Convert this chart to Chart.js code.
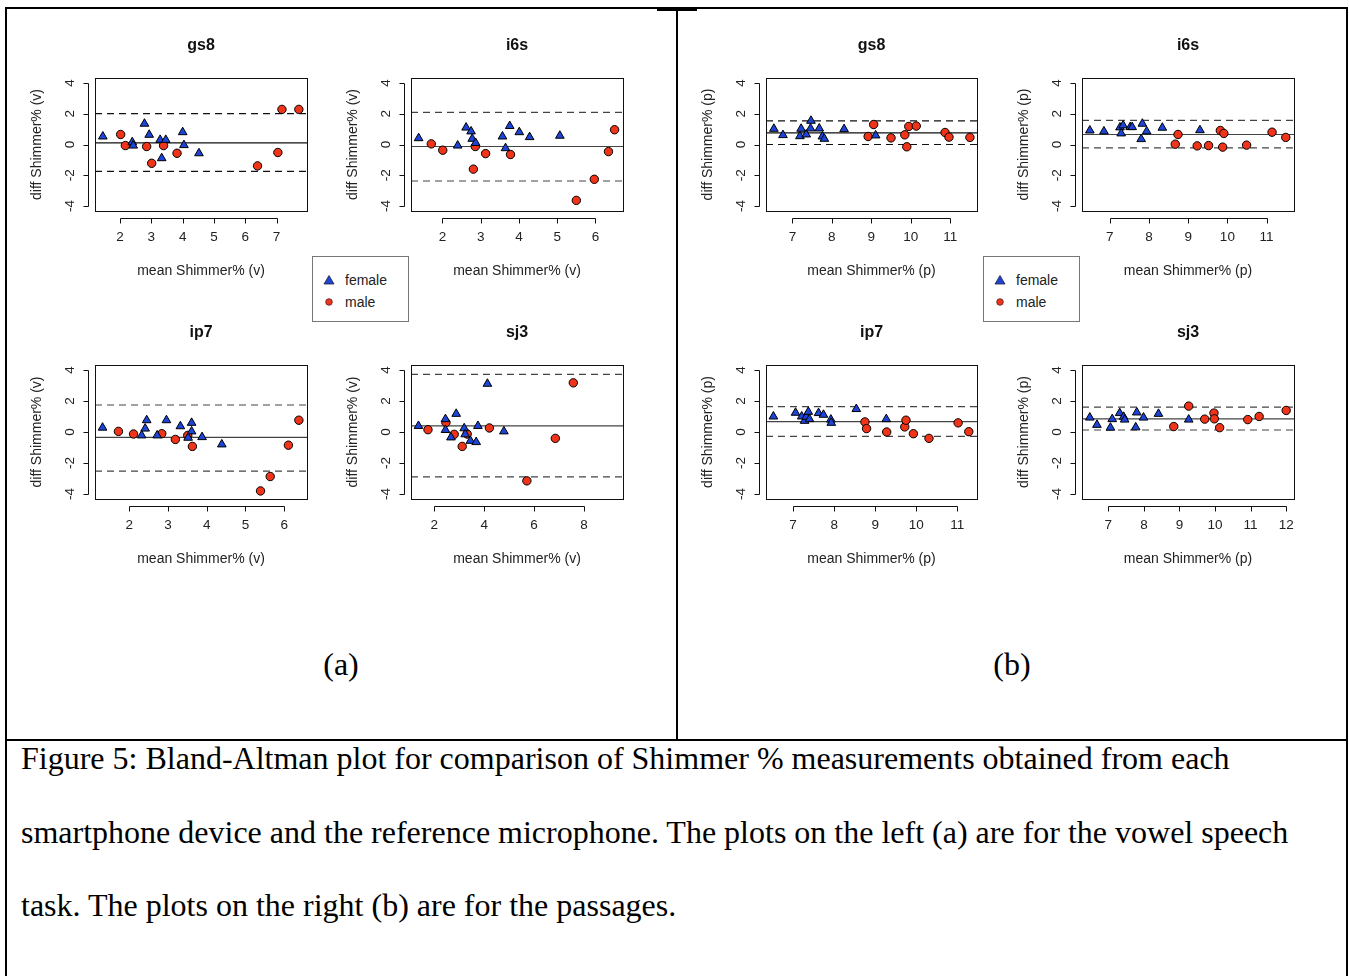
<!DOCTYPE html>
<html>
<head>
<meta charset="utf-8">
<script src="https://cdn.jsdelivr.net/npm/chart.js@4.4.1/dist/chart.umd.min.js"></script>
<style>
body { margin:0; background:#fff; width:1349px; height:976px; position:relative; overflow:hidden; }
.rule { position:absolute; background:#000; }
.plot { position:absolute; }
.legend { position:absolute; left:0; top:0; width:95px; height:64px; border:1px solid #777; background:#fff;
  font:14px "Liberation Sans", Arial, sans-serif; color:#222; }
.legend span { position:absolute; left:32px; line-height:16px; }
.legend svg { position:absolute; left:10px; }
.serif { position:absolute; font-family:"Liberation Serif", "Times New Roman", serif; font-size:32px; color:#000; white-space:nowrap; }
</style>
</head>
<body>

<div class="rule" style="left:6px; top:7px; width:1341px; height:2px;"></div>
<div class="rule" style="left:657px; top:8px; width:40px; height:3px;"></div>
<div class="rule" style="left:676px; top:9px; width:2px; height:731px;"></div>
<div class="rule" style="left:5px; top:7px; width:2px; height:969px;"></div>
<div class="rule" style="left:1346px; top:7px; width:2px; height:969px;"></div>
<div class="rule" style="left:5px; top:739px; width:1343px; height:2px;"></div>

<div class="serif" style="left:291px; top:646px; width:100px; text-align:center;">(a)</div>
<div class="serif" style="left:962px; top:646px; width:100px; text-align:center;">(b)</div>

<div class="serif" style="left:21px; top:722px; line-height:73.5px;">
Figure 5: Bland-Altman plot for comparison of Shimmer % measurements obtained from each<br>
smartphone device and the reference microphone. The plots on the left (a) are for the vowel speech<br>
task. The plots on the right (b) are for the passages.
</div>

<script>
// devices, one plot each, in reading order
const devices = ['gs8', 'i6s', 'ip7', 'sj3'];

// (a) vowel task: [mean, diff] pairs
const aGs8Female = [[1.45,0.52],[2.39,0.15],[2.42,-0.07],[2.78,1.35],[2.93,0.63],[3.28,0.3],[3.46,0.3],[3.33,-0.89],[4.0,0.8],[4.04,-0.04],[4.52,-0.57]];
const aGs8Male = [[2.02,0.65],[2.17,-0.07],[2.85,-0.13],[3.01,-1.22],[3.39,-0.07],[3.82,-0.57],[6.39,-1.39],[7.04,-0.52],[7.17,2.28],[7.71,2.28]];
const aI6sFemale = [[1.38,0.41],[2.40,-0.07],[2.62,1.1],[2.75,0.85],[2.78,0.37],[2.87,0.1],[3.57,0.52],[3.65,-0.24],[3.76,1.2],[4.01,0.8],[4.28,0.48],[5.07,0.57]];
const aI6sMale = [[1.71,0.04],[2.01,-0.37],[2.86,-0.13],[2.81,-1.6],[3.13,-0.59],[3.78,-0.65],[5.50,-3.63],[5.97,-2.26],[6.34,-0.46],[6.50,0.96]];
const aIp7Female = [[1.31,0.28],[2.32,-0.22],[2.41,0.22],[2.45,0.76],[2.72,-0.22],[2.96,0.76],[3.32,0.37],[3.52,-0.37],[3.61,0.59],[3.61,0.04],[3.88,-0.33],[4.39,-0.8]];
const aIp7Male = [[1.72,0.04],[2.11,-0.13],[2.84,-0.11],[3.19,-0.48],[3.51,-0.22],[3.63,-0.93],[5.39,-3.8],[5.64,-2.87],[6.11,-0.85],[6.38,0.76]];
const aSj3Female = [[1.37,0.39],[2.45,0.83],[2.45,0.13],[2.67,-0.35],[2.88,1.17],[3.2,0.24],[3.24,-0.15],[3.45,-0.57],[3.68,-0.65],[3.75,0.39],[4.13,3.11],[4.79,0.04]];
const aSj3Male = [[1.75,0.15],[2.47,0.61],[2.80,-0.15],[3.12,-0.93],[3.32,-0.13],[4.21,0.26],[5.71,-3.15],[6.85,-0.41],[7.57,3.17]];

// (b) passages
const bGs8Female = [[6.53,1.02],[6.76,0.61],[7.22,1.02],[7.19,0.54],[7.35,0.65],[7.47,1.54],[7.46,1.04],[7.68,1.04],[7.76,0.52],[7.81,0.37],[8.31,1.0],[9.11,0.59]];
const bGs8Male = [[8.92,0.52],[9.06,1.3],[9.5,0.43],[9.85,0.63],[9.9,-0.15],[9.95,1.17],[10.14,1.2],[10.87,0.78],[10.97,0.48],[11.5,0.46]];
const bI6sFemale = [[6.49,0.91],[6.85,0.85],[7.26,1.11],[7.29,0.72],[7.34,1.24],[7.52,1.13],[7.57,1.13],[7.8,0.35],[7.83,1.35],[7.94,0.85],[8.34,1.09],[9.3,0.93]];
const bI6sMale = [[8.67,0.02],[8.74,0.65],[9.23,-0.09],[9.52,-0.07],[9.82,0.91],[9.91,0.72],[9.88,-0.17],[10.49,-0.04],[11.14,0.8],[11.49,0.46]];
const bIp7Female = [[6.52,1.0],[7.06,1.24],[7.21,1.0],[7.28,0.72],[7.32,0.98],[7.37,1.3],[7.40,0.83],[7.62,1.22],[7.74,1.11],[7.92,0.8],[7.93,0.59],[8.54,1.48],[9.27,0.83]];
const bIp7Male = [[8.75,0.65],[8.79,0.22],[9.28,0.0],[9.72,0.33],[9.75,0.76],[9.93,-0.11],[10.31,-0.41],[11.02,0.59],[11.28,0.02]];
const bSj3Female = [[6.48,0.93],[6.68,0.46],[7.06,0.28],[7.11,0.83],[7.32,1.22],[7.43,0.98],[7.46,0.8],[7.77,0.3],[7.80,1.26],[7.99,0.93],[8.41,1.17],[9.26,0.8]];
const bSj3Male = [[8.84,0.35],[9.26,1.67],[9.71,0.83],[9.97,1.22],[9.98,0.85],[10.13,0.28],[10.92,0.8],[11.24,1.0],[12.0,1.39]];

// bias and limits of agreement, per device
const vowelMean = [0.11, -0.13, -0.35, 0.39];
const vowelUpper = [2.0, 2.09, 1.74, 3.72];
const vowelLower = [-1.74, -2.37, -2.52, -2.89];
const passageMean = [0.76, 0.65, 0.67, 0.85];
const passageUpper = [1.54, 1.57, 1.63, 1.61];
const passageLower = [0.0, -0.22, -0.28, 0.13];

// axes
const vowelXRange = [[1.2, 7.97], [1.18, 6.72], [1.115, 6.59], [1.07, 9.56]];
const passageXRange = [[6.33, 11.68], [6.29, 11.70], [6.34, 11.48], [6.26, 12.22]];
const vowelXTicks = [[2,3,4,5,6,7], [2,3,4,5,6], [2,3,4,5,6], [2,4,6,8]];
const passageXTicks = [[7,8,9,10,11], [7,8,9,10,11], [7,8,9,10,11], [7,8,9,10,11,12]];
const yTicks = [-4, -2, 0, 2, 4];
const yRange = [-4.32, 4.32];

const SANS = '"Liberation Sans", Arial, Helvetica, sans-serif';
const BLUE = '#1d44d8';
const RED = '#f0341a';

// plot boxes on the page
const colEdges = [[95, 307], [411, 623], [766, 977], [1082, 1294]];
const rowEdges = [[77.5, 210.5], [364.5, 498.5]];
const W_Y = 75, H_X = 72, PAD_TOP = 50, PAD_RIGHT = 20;

// R style: framed plot, axes pulled away from the frame
const rAxes = {
  id: 'rAxes',
  afterDatasetsDraw(chart) {
    const {ctx, chartArea: a, scales: {x, y}} = chart;
    const px = v => Math.round(v) + 0.5;
    ctx.save();
    ctx.strokeStyle = '#111';
    ctx.lineWidth = 1;
    ctx.strokeRect(px(a.left), px(a.top), Math.round(a.right) - Math.round(a.left), Math.round(a.bottom) - Math.round(a.top));
    ctx.beginPath();
    const ax = px(a.left - 7);
    const yp = y.ticks.map(t => px(y.getPixelForValue(t.value)));
    ctx.moveTo(ax, yp[0]); ctx.lineTo(ax, yp[yp.length - 1]);
    yp.forEach(p => { ctx.moveTo(ax, p); ctx.lineTo(ax - 5, p); });
    const ay = px(a.bottom + 7);
    const xp = x.ticks.map(t => px(x.getPixelForValue(t.value)));
    ctx.moveTo(xp[0], ay); ctx.lineTo(xp[xp.length - 1], ay);
    xp.forEach(p => { ctx.moveTo(p, ay); ctx.lineTo(p, ay + 5); });
    ctx.stroke();
    ctx.restore();
  }
};

function pts(arr) {
  return arr.map(d => ({x: d[0], y: d[1]}));
}

function hline(xr, v, dash, color) {
  return {
    type: 'line', data: [{x: xr[0], y: v}, {x: xr[1], y: v}],
    borderColor: color, borderWidth: 1.2, borderDash: dash,
    pointRadius: 0, showLine: true, order: 3
  };
}

function addPlot(box, title, unit, xr, xt, females, males, mean, upper, lower) {
  const [l, r] = box.x, [t, b] = box.y;
  const w = Math.round(r - l + W_Y + PAD_RIGHT), h = Math.round(b - t + PAD_TOP + H_X);
  const holder = document.createElement('div');
  holder.className = 'plot';
  holder.style.left = (l - W_Y) + 'px';
  holder.style.top = (t - PAD_TOP) + 'px';
  const cv = document.createElement('canvas');
  cv.width = w; cv.height = h;
  cv.style.width = w + 'px'; cv.style.height = h + 'px';
  holder.appendChild(cv);
  document.body.appendChild(holder);

  const lineColor = title === 'gs8' ? '#111' : '#444';
  const tickFont = {family: SANS, size: 13.5};

  new Chart(cv, {
    type: 'scatter',
    data: {
      datasets: [
        hline(xr, mean, [], lineColor),
        hline(xr, upper, [7, 5], lineColor),
        hline(xr, lower, [7, 5], lineColor),
        {label: 'female', data: pts(females), pointStyle: 'triangle', pointRadius: 5,
          backgroundColor: BLUE, borderColor: '#000', borderWidth: 1, order: 1},
        {label: 'male', data: pts(males), pointStyle: 'circle', pointRadius: 4.2,
          backgroundColor: RED, borderColor: '#000', borderWidth: 1, order: 1}
      ]
    },
    options: {
      responsive: false,
      animation: false,
      events: [],
      layout: {padding: {top: 0, right: PAD_RIGHT, bottom: 0, left: 0}},
      plugins: {
        legend: {display: false},
        tooltip: {enabled: false},
        title: {display: true, fullSize: false, text: title, color: '#111',
          font: {family: SANS, size: 16, weight: 'bold'}, padding: {top: 8.4, bottom: 22.4}}
      },
      scales: {
        x: {
          type: 'linear', min: xr[0], max: xr[1],
          afterBuildTicks: s => { s.ticks = xt.map(v => ({value: v})); },
          afterFit: s => { s.height = H_X; },
          grid: {display: false, drawTicks: false},
          border: {display: false},
          ticks: {font: tickFont, color: '#222', padding: 18, autoSkip: false, maxRotation: 0},
          title: {display: true, text: 'mean Shimmer% (' + unit + ')', color: '#222',
            font: {family: SANS, size: 14}, padding: {top: 0, bottom: 3.9}}
        },
        y: {
          type: 'linear', min: yRange[0], max: yRange[1],
          afterBuildTicks: s => { s.ticks = yTicks.map(v => ({value: v})); },
          afterFit: s => { s.width = W_Y; },
          grid: {display: false, drawTicks: false},
          border: {display: false},
          ticks: {font: tickFont, color: '#222', padding: 19, autoSkip: false,
            minRotation: 90, maxRotation: 90, crossAlign: 'center'},
          title: {display: true, text: 'diff Shimmer% (' + unit + ')', color: '#222',
            font: {family: SANS, size: 14}, padding: {top: 8.6, bottom: 0}}
        }
      }
    },
    plugins: [rAxes]
  });
}

const vowelSets = [[aGs8Female, aGs8Male], [aI6sFemale, aI6sMale], [aIp7Female, aIp7Male], [aSj3Female, aSj3Male]];
const passageSets = [[bGs8Female, bGs8Male], [bI6sFemale, bI6sMale], [bIp7Female, bIp7Male], [bSj3Female, bSj3Male]];

devices.forEach((dev, i) => {
  const row = Math.floor(i / 2), col = i % 2;
  addPlot({x: colEdges[col], y: rowEdges[row]}, dev, 'v', vowelXRange[i], vowelXTicks[i],
    vowelSets[i][0], vowelSets[i][1], vowelMean[i], vowelUpper[i], vowelLower[i]);
  addPlot({x: colEdges[col + 2], y: rowEdges[row]}, dev, 'p', passageXRange[i], passageXTicks[i],
    passageSets[i][0], passageSets[i][1], passageMean[i], passageUpper[i], passageLower[i]);
});

// legends between the two columns of each panel
[312, 983].forEach(left => {
  const lg = document.createElement('div');
  lg.className = 'legend';
  lg.style.left = left + 'px';
  lg.style.top = '256px';
  lg.innerHTML =
    '<svg width="12" height="12" style="top:17px"><polygon points="6,1.5 11,10 1,10" fill="' + BLUE + '" stroke="#223" stroke-width="0.8"/></svg>' +
    '<span style="top:15px">female</span>' +
    '<svg width="12" height="12" style="top:39px"><circle cx="6" cy="6" r="3.3" fill="' + RED + '" stroke="#522" stroke-width="0.8"/></svg>' +
    '<span style="top:37px">male</span>';
  document.body.appendChild(lg);
});
</script>
</body>
</html>
